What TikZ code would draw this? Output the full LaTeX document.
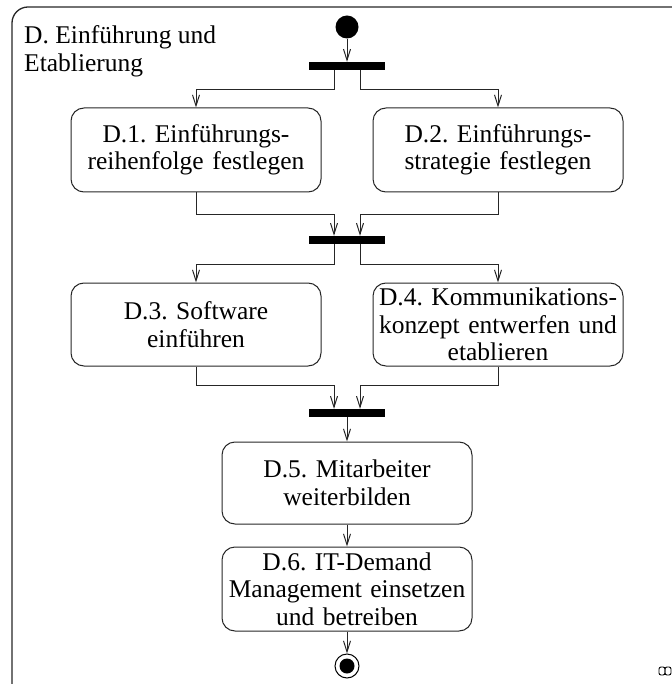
\documentclass[tikz,border=0pt]{standalone}
\usepackage{fontspec}
\setmainfont{Liberation Serif}
\usepackage{tikz}
\usetikzlibrary{arrows.meta, positioning, calc}
\frenchspacing

\begin{document}
\begin{tikzpicture}[
    x=1pt, y=-1pt,
    box/.style={rectangle, draw=black!85, line width=1pt, text width=246pt, align=center, rounded corners=13pt, minimum width=250pt, minimum height=84pt, inner sep=0pt, font=\fontsize{25.5}{27.5}\selectfont},
    bar/.style={rectangle, fill=black, minimum width=76pt, minimum height=8pt, inner sep=0pt},
    startnode/.style={circle, fill=black, minimum size=23pt, inner sep=0pt},
    endnode/.style={circle, draw=black, line width=1pt, minimum size=24pt, inner sep=0pt},
    arrow/.style={-{Straight Barb[length=11pt, width=7pt]}, line width=1pt, draw=black!85}
]
\useasboundingbox (0,0) rectangle (671,684);

% frame
\draw[line width=1.3pt, draw=black!85, rounded corners=16pt] (12,7) rectangle (720,730);
\node[anchor=north west, align=left, inner sep=0pt, font=\fontsize{25.5}{27.5}\selectfont] (title) at (24,25.5) {D. Einführung und\\Etablierung};

\node[startnode] (start) at (347,27) {};
\node[bar] (fork1) at (347,66) {};
\node[box] (d1) at (196,150) {D.1. Einführungs-\\reihenfolge festlegen};
\node[box] (d2) at (498,150) {D.2. Einführungs-\\strategie festlegen};
\node[bar] (fork2) at (347,240) {};
\node[box, minimum height=83pt] (d3) at (196,324.5) {D.3. Software\\einführen};
\node[box, minimum height=83pt] (d4) at (498,324.5) {D.4. Kommunikations-\\konzept entwerfen und\\etablieren};
\node[bar] (fork3) at (347,413) {};
\node[box, minimum height=82pt] (d5) at (347,483) {D.5. Mitarbeiter\\weiterbilden};
\node[box] (d6) at (347,589) {D.6. IT-Demand\\Management einsetzen\\und betreiben};
\node[endnode] (stop) at (347,666) {};
\fill (stop) circle (7.5pt);

\draw[arrow] (start) -- (fork1);
\draw[arrow] ([xshift=-13pt]fork1.south) -- ++(0,19) -| (d1.north);
\draw[arrow] ([xshift=13pt]fork1.south) -- ++(0,19) -| (d2.north);
\draw[arrow] (d1.south) -- ++(0,22) -| ([xshift=-13pt]fork2.north);
\draw[arrow] (d2.south) -- ++(0,22) -| ([xshift=13pt]fork2.north);
\draw[arrow] ([xshift=-13pt]fork2.south) -- ++(0,20) -| (d3.north);
\draw[arrow] ([xshift=13pt]fork2.south) -- ++(0,20) -| (d4.north);
\draw[arrow] (d3.south) -- ++(0,19) -| ([xshift=-13pt]fork3.north);
\draw[arrow] (d4.south) -- ++(0,19) -| ([xshift=13pt]fork3.north);
\draw[arrow] (fork3) -- (d5);
\draw[arrow] (d5) -- (d6);
\draw[arrow] (d6) -- (stop);

% icon
\draw[line width=0.9pt, rounded corners=2pt] (659,667) rectangle (665,675);
\draw[line width=0.9pt, rounded corners=2pt] (665,667) rectangle (671,675);
\end{tikzpicture}
\end{document}
